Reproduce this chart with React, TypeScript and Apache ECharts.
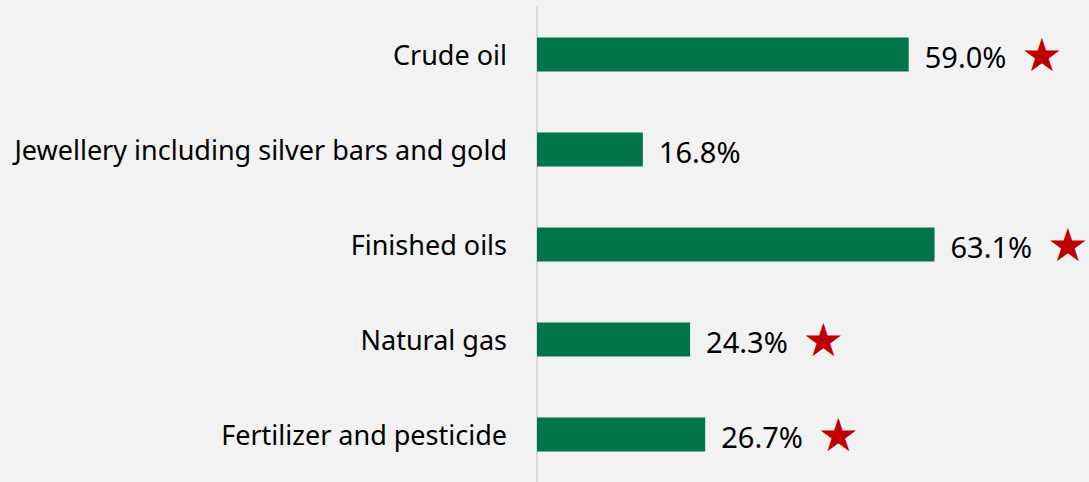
import React, { useEffect, useRef } from "react";
import * as echarts from "echarts";

const categories = [
  "Crude oil",
  "Jewellery including silver bars and gold",
  "Finished oils",
  "Natural gas",
  "Fertilizer and pesticide",
];
const values = [59.0, 16.8, 63.1, 24.3, 26.7];
const starred = [true, false, true, true, true];

export default function App() {
  const ref = useRef<HTMLDivElement>(null);
  useEffect(() => {
    if (!ref.current) return;
    const chart = echarts.init(ref.current, null, { renderer: "svg" });
    chart.setOption({
      animation: false,
      backgroundColor: "#f2f2f2",
      textStyle: { fontFamily: "Noto Sans" },
      grid: { left: 537, top: 7, height: 476, width: 504, containLabel: false },
      xAxis: {
        type: "value",
        min: 0,
        max: 80,
        show: false,
      },
      yAxis: {
        type: "category",
        data: categories,
        inverse: true,
        axisLine: { show: true, lineStyle: { color: "#d9d9d9", width: 2 } },
        axisTick: { show: false },
        axisLabel: { fontSize: 27, color: "#000", margin: 30, fontFamily: "Noto Sans" },
      },
      series: [
        {
          type: "bar",
          barWidth: 34,
          itemStyle: { color: "#00754a" },
          data: values.map((v, i) => ({
            value: v,
            label: {
              show: true,
              position: "right",
              distance: 16,
              formatter: starred[i]
                ? `{v|${v.toFixed(1)}%}{g|}{s|★}`
                : `{v|${v.toFixed(1)}%}`,
              rich: {
                v: { fontSize: 29, color: "#000", fontFamily: "Noto Sans", padding: [4, 0, 0, 0] },
                g: { width: 15 },
                s: { fontSize: 46, color: "#c00000", fontFamily: "DejaVu Sans" },
              },
            },
          })),
        },
      ],
    });
    return () => chart.dispose();
  }, []);
  return (
    <div
      ref={ref}
      style={{ position: "fixed", left: 0, top: 0, width: 1089, height: 482 }}
    />
  );
}
